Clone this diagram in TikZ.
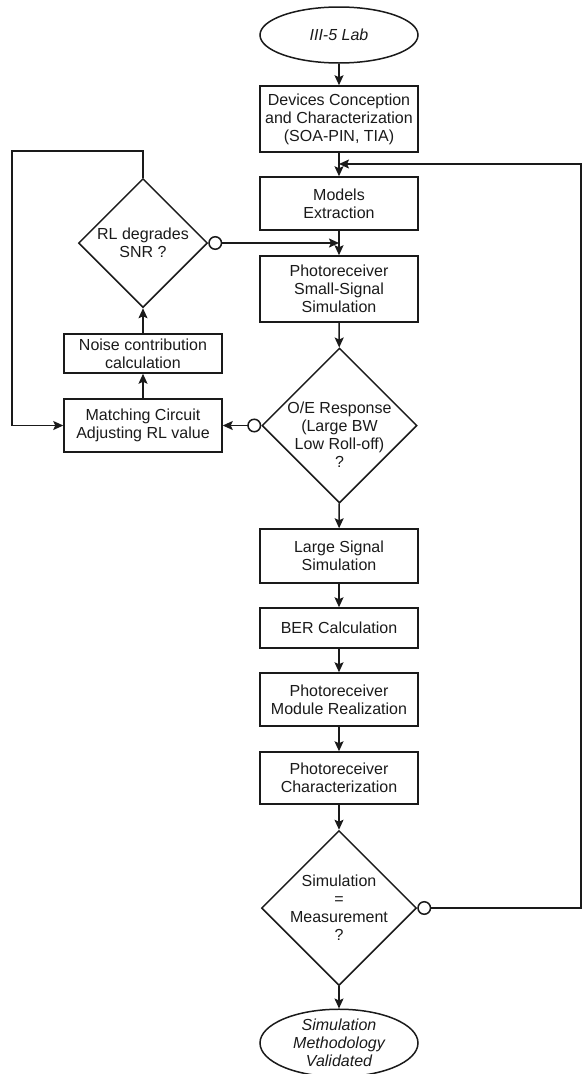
\documentclass[tikz,border=0pt]{standalone}
\usepackage{fontspec}
\setmainfont{Liberation Sans}
\usetikzlibrary{arrows.meta,shapes.geometric}
\definecolor{ink}{HTML}{1A1A1A}
\tikzset{>={Stealth[length=10pt,width=9pt,inset=2pt]},
  every node/.style={font=\fontsize{16}{18}\selectfont,text=ink},
  box/.style={draw=ink,rectangle,minimum width=158pt,align=center,inner sep=1pt},
  decision/.style={draw=ink,diamond,aspect=1,align=center,inner sep=-7pt},
  terminal/.style={draw=ink,ellipse,minimum width=158pt,align=center,inner sep=0pt,
    font=\fontsize{16}{18}\selectfont\itshape},
  flow/.style={->,draw=ink},
  nogo/.style={{Circle[open,length=14pt,width=14pt]}->,draw=ink}}

\begin{document}
\begin{tikzpicture}[x=1pt,y=-1pt,line width=1.5pt]
\useasboundingbox (0,0) rectangle (582,1074);
% main column
\node[terminal,minimum height=56pt] (lab) at (339,35) {III-5 Lab};
\node[box,minimum height=66pt] (dev) at (339,119) {Devices Conception\\and Characterization\\(SOA-PIN, TIA)};
\node[box,minimum height=53pt] (models) at (339,203.5) {Models\\Extraction};
\node[box,minimum height=66pt] (small) at (339,289) {Photoreceiver\\Small-Signal\\Simulation};
\node[decision,minimum size=155pt] (oe) at (339.5,425.5)
  {\raisebox{-11pt}[\height][\depth]{\begin{tabular}{@{}c@{}}O/E Response\\(Large BW\\Low Roll-off)\\?\end{tabular}}};
\node[box,minimum height=54pt] (large) at (339,556) {Large Signal\\Simulation};
\node[box,minimum height=40pt] (ber) at (339,628) {BER Calculation};
\node[box,minimum height=53pt] (module) at (339,699.5) {Photoreceiver\\Module Realization};
\node[box,minimum height=52pt] (charac) at (339,778) {Photoreceiver\\Characterization};
\node[decision,minimum size=155pt] (simeq) at (339,908) {Simulation\\=\\Measurement\\?};
\node[terminal,minimum height=60pt] (valid) at (339,1043) {Simulation\\Methodology\\Validated};
% matching loop
\node[decision,minimum size=129pt] (rl) at (143,243) {RL degrades\\SNR ?};
\node[box,minimum height=39pt] (noise) at (143,353.5) {Noise contribution\\calculation};
\node[box,minimum height=53pt] (match) at (143,425.5) {Matching Circuit\\Adjusting RL value};
\coordinate (j1) at (339,164);
\coordinate (j2) at (339,243);
\coordinate (re) at (581,164);
\coordinate (lt) at (12,151);

\foreach \a/\b in {lab/dev,dev/models,models/small,small/oe,oe/large,large/ber,
  ber/module,module/charac,charac/simeq,simeq/valid,match/noise,noise/rl}
  \draw[flow] (\a) -- (\b);
\draw[nogo] (oe.west) -- (match.east);
\draw[nogo] (rl.east) -- (j2);
\draw[flow] (rl.north) |- (lt) |- (match.west);
\draw[nogo] (simeq.east) -| (re) -- (j1);
\end{tikzpicture}
\end{document}
